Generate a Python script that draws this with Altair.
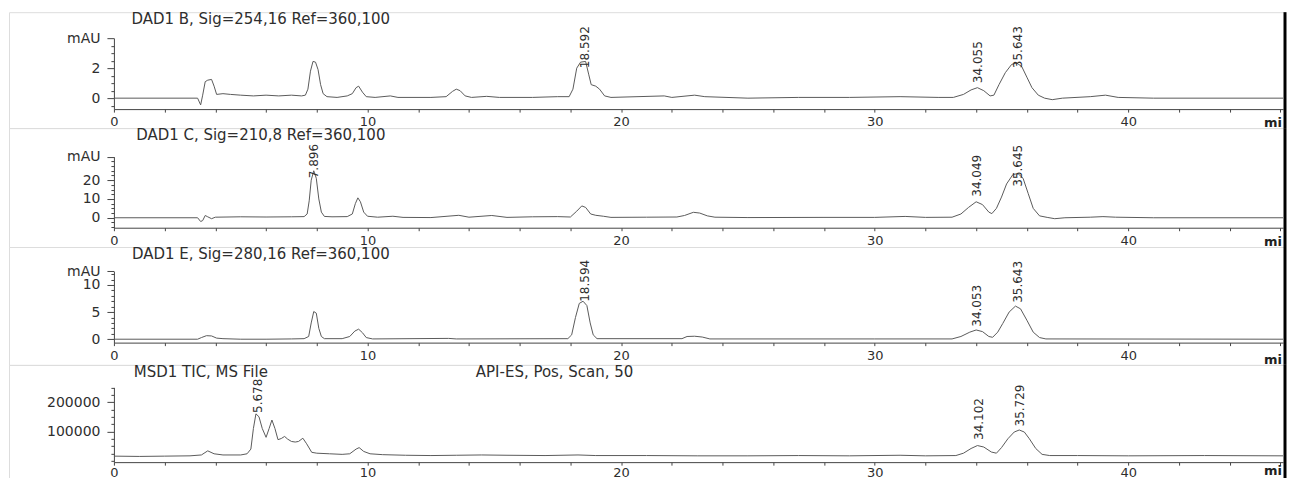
import altair as alt
import pandas as pd

# ---------------- data ----------------
# DAD1 B (mAU)
b_time = [0, 3.3, 3.42, 3.5, 3.6, 3.7, 3.85, 3.95, 4.05, 4.3, 4.6, 5.0, 5.5, 6.0, 6.5, 7.0, 7.4, 7.55,
          7.65, 7.75, 7.85, 7.95, 8.05, 8.15, 8.25, 8.4, 8.8, 9.2, 9.4, 9.55, 9.65, 9.8, 9.95, 10.3,
          10.9, 11.2, 12.5, 13.1, 13.35, 13.5, 13.65, 13.85, 14.1, 14.7, 15.2, 16.5, 17.5, 17.95,
          18.1, 18.25, 18.4, 18.6, 18.72, 18.82, 19.0, 19.15, 19.35, 19.6, 21.7, 22.0, 22.9, 23.3,
          25, 27, 29, 31, 32.5, 33.1, 33.5, 33.8, 34.05, 34.3, 34.55, 34.7, 34.9, 35.15, 35.4, 35.6,
          35.8, 36.0, 36.2, 36.45, 36.7, 37.0, 37.4, 38.5, 39.1, 39.6, 41, 46.1]
b_mau = [0.0, 0.0, -0.45, 0.2, 1.1, 1.2, 1.25, 0.8, 0.25, 0.3, 0.25, 0.2, 0.15, 0.2, 0.15, 0.2, 0.15, 0.2,
         0.6, 1.8, 2.45, 2.4, 1.9, 0.9, 0.3, 0.1, 0.05, 0.15, 0.3, 0.7, 0.8, 0.4, 0.1, 0.05,
         0.15, 0.05, 0.05, 0.1, 0.45, 0.6, 0.5, 0.15, 0.05, 0.12, 0.05, 0.05, 0.1, 0.1,
         0.6, 2.0, 2.4, 2.45, 1.6, 0.9, 0.8, 0.6, 0.15, 0.05, 0.15, 0.05, 0.2, 0.1,
         0.0, 0.05, 0.05, 0.1, 0.05, 0.05, 0.25, 0.55, 0.7, 0.5, 0.15, 0.2, 0.9, 1.7, 2.25, 2.35,
         2.1, 1.4, 0.7, 0.2, 0.0, -0.1, 0.0, 0.1, 0.2, 0.05, 0.0, 0.0]

# DAD1 C (mAU)
c_time = [0, 3.3, 3.42, 3.5, 3.6, 3.7, 3.85, 4.0, 5, 6, 7, 7.5, 7.62, 7.7, 7.78, 7.88, 7.98, 8.08, 8.18,
          8.3, 8.6, 9.2, 9.4, 9.52, 9.62, 9.72, 9.85, 10.0, 10.4, 11.0, 11.4, 12.5, 13.6, 14.0, 14.9,
          15.5, 16.5, 17.5, 18.0, 18.25, 18.45, 18.6, 18.8, 19.0, 19.3, 19.6, 21, 22.2, 22.5, 22.85,
          23.1, 23.4, 23.7, 25, 28, 30, 31.2, 32, 33.05, 33.4, 33.7, 34.0, 34.25, 34.5, 34.62, 34.8,
          35.0, 35.2, 35.45, 35.65, 35.85, 36.05, 36.25, 36.5, 36.8, 37.1, 37.5, 38.5, 39, 39.5, 41, 46.1]
c_mau = [0, 0, -2.0, -1.5, 1.2, 0.5, -0.5, 0.3, 0.5, 0.4, 0.5, 0.6, 2, 9, 20, 25, 21, 10, 3,
         0.7, 0.5, 0.6, 2, 7.5, 10.6, 8.5, 3, 0.8, 0.3, 0.8, 0.2, 0.1, 1.3, 0.3, 1.2,
         0.2, 0.5, 0.6, 0.4, 3.5, 6.3, 5.5, 2, 1.3, 0.8, 0.2, 0.3, 0.4, 1.2, 2.9,
         2.5, 1.0, 0.3, 0.1, 0.2, 0.2, 0.7, 0.2, 0.3, 2.0, 5.5, 8.5, 7, 3, 2.2, 5,
         11, 18, 23, 23.5, 21, 13, 5, 1, 0.2, -0.5, 0, 0.3, 0.6, 0.3, 0, 0]

# DAD1 E (mAU)
e_time = [0, 3.3, 3.45, 3.65, 3.85, 4.05, 4.3, 5, 6, 7, 7.5, 7.68, 7.78, 7.88, 7.98, 8.08, 8.18, 8.3,
          9.0, 9.3, 9.5, 9.65, 9.8, 9.95, 10.2, 13.2, 13.5, 17.9, 18.05, 18.2, 18.35, 18.5, 18.65,
          18.78, 18.9, 19.05, 22.4, 22.6, 22.9, 23.2, 23.5, 30, 33.05, 33.4, 33.75, 34.0, 34.25, 34.5,
          34.65, 34.85, 35.05, 35.3, 35.55, 35.75, 36.0, 36.25, 36.5, 36.75, 46.1]
e_mau = [0, 0, 0.3, 0.65, 0.6, 0.2, 0.1, 0, 0, 0.05, 0.1, 0.5, 3, 5.1, 4.8, 2, 0.5, 0.1,
         0.1, 0.5, 1.5, 1.85, 1.2, 0.3, 0.05, 0.15, 0.05, 0.1, 0.8, 4, 6.6, 7.0, 6.2,
         3, 0.8, 0.1, 0.1, 0.5, 0.55, 0.4, 0.05, 0.05, 0.05, 0.5, 1.3, 1.7, 1.4, 0.5,
         0.35, 1.3, 2.9, 5.0, 6.1, 5.6, 3.5, 1.3, 0.3, 0.05, 0.0]

# MSD1 TIC (counts)
tic_time = [0, 1, 2, 3, 3.45, 3.7, 3.95, 4.3, 5.0, 5.25, 5.4, 5.5, 5.6, 5.72, 5.85, 6.0, 6.12, 6.23,
            6.35, 6.47, 6.6, 6.73, 6.85, 7.0, 7.15, 7.28, 7.45, 7.6, 7.8, 8.0, 8.5, 9.0, 9.3, 9.55,
            9.67, 9.85, 10.1, 10.6, 11.5, 12.5, 13.5, 14.5, 15.5, 17, 18.3, 19, 21, 23, 25, 27, 29,
            31, 32, 33.2, 33.5, 33.8, 34.05, 34.3, 34.6, 34.8, 35.0, 35.25, 35.5, 35.7, 35.9, 36.1,
            36.35, 36.6, 36.9, 38, 40, 43, 46.1]
tic_counts = [16000, 15000, 16000, 17000, 20000, 34000, 24000, 20000, 20000, 24000, 40000, 110000,
              160000, 150000, 110000, 80000, 110000, 139000, 110000, 72000, 76000, 83000, 74000,
              66000, 64000, 66000, 77000, 58000, 29000, 26000, 24000, 22000, 24000, 40000, 45000,
              32000, 24000, 21000, 19000, 18000, 19000, 20000, 19000, 18000, 20000, 18000, 18000,
              17000, 17000, 18000, 17000, 19000, 17000, 18000, 26000, 42000, 52000, 47000, 30000,
              26000, 45000, 75000, 98000, 105000, 98000, 75000, 42000, 22000, 18000, 18000, 17000,
              18000, 17000]

# peak annotations: retention time, printed label, signal level at the label foot
b_peak_time = [18.592, 34.055, 35.643]
b_peak_text = ["18.592", "34.055", "35.643"]
b_peak_level = [2.0, 1.0, 2.0]
c_peak_time = [7.896, 34.049, 35.645]
c_peak_text = ["7.896", "34.049", "35.645"]
c_peak_level = [21.0, 11.2, 16.5]
e_peak_time = [18.594, 34.053, 35.643]
e_peak_text = ["18.594", "34.053", "35.643"]
e_peak_level = [6.9, 2.3, 6.7]
tic_peak_time = [5.678, 34.102, 35.729]
tic_peak_text = ["5.678", "34.102", "35.729"]
tic_peak_level = [163000, 71000, 117000]

titles_b = ["DAD1 B, Sig=254,16 Ref=360,100"]
titles_c = ["DAD1 C, Sig=210,8 Ref=360,100"]
titles_e = ["DAD1 E, Sig=280,16 Ref=360,100"]
titles_tic = ["MSD1 TIC, MS File", "API-ES, Pos, Scan, 50"]
unit_text = "mi"

x_ticks = list(range(0, 47, 2))

b_yticks = [-0.5, 0, 0.5, 1, 1.5, 2, 2.5, 3, 3.5, 4]
b_ylabels = {0: "0", 2: "2", 4: "mAU"}
c_yticks = [-5, -2.5, 0, 2.5, 5, 7.5, 10, 12.5, 15, 17.5, 20, 22.5, 25, 27.5, 30, 32.5]
c_ylabels = {0: "0", 10: "10", 20: "20", 32.5: "mAU"}
e_yticks = [0, 1, 2, 3, 4, 5, 6, 7, 8, 9, 10, 11, 12, 12.5]
e_ylabels = {0: "0", 5: "5", 10: "10", 12.5: "mAU"}
tic_yticks = [0, 25000, 50000, 75000, 100000, 125000, 150000, 175000, 200000, 225000, 250000]
tic_ylabels = {100000: "100000", 200000: "200000"}

# ---------------- layout / style ----------------
W = 1277
X_RANGE = [105, 1275]
X_DOMAIN = [0, 46.1]
FONT = "DejaVu Sans"
INK = "#2e2e2e"
LINE = "#5a5a5a"


def label_expr(mapping):
    expr = "''"
    for val, txt in reversed(list(mapping.items())):
        expr = f"datum.value === {val} ? '{txt}' : ({expr})"
    return expr


def panel(times, values, pk_t, pk_txt, pk_lvl, titles, title_x, h, y_domain, y_range,
          y_ticks, y_labels, x_pad, unit_y):
    df = pd.DataFrame({"t": times, "v": values})
    pk = pd.DataFrame({"t": pk_t, "v": pk_lvl, "txt": pk_txt})
    xs = alt.Scale(domain=X_DOMAIN, range=X_RANGE, nice=False, zero=False)
    ys = alt.Scale(domain=y_domain, range=y_range, nice=False, zero=False)
    major = [k for k in y_labels.keys()]
    major_test = "indexof([" + ",".join(str(m) for m in major) + "], datum.value) >= 0"

    x_axis = alt.Axis(values=x_ticks, labelExpr="datum.value % 10 === 0 ? datum.label : ''",
                      orient="bottom", offset=y_range[0] - h, tickSize=3, labelPadding=x_pad,
                      grid=False, title=None, labelFlush=False, labelOverlap=False,
                      domainColor="#444444", tickColor="#444444", labelFont=FONT,
                      labelFontSize=13, labelColor=INK, labelAngle=0)
    y_axis = alt.Axis(values=y_ticks, labelExpr=label_expr(y_labels), orient="left",
                      offset=-X_RANGE[0],
                      tickSize={"condition": {"test": major_test, "value": 7}, "value": 3},
                      labelPadding=7, grid=False, title=None, labelOverlap=False,
                      domainColor="#444444", tickColor="#444444", labelFont=FONT,
                      labelFontSize=14, labelColor=INK)

    line = alt.Chart(df).mark_line(color=LINE, strokeWidth=1).encode(
        x=alt.X("t:Q", scale=xs, axis=x_axis),
        y=alt.Y("v:Q", scale=ys, axis=y_axis),
    )
    peaks = alt.Chart(pk).mark_text(angle=270, align="left", baseline="middle", font=FONT,
                                    fontSize=12, color=INK).encode(
        x=alt.X("t:Q", scale=xs, axis=x_axis),
        y=alt.Y("v:Q", scale=ys, axis=y_axis),
        text="txt:N",
    )
    layers = [line, peaks]
    for txt, tx in zip(titles, title_x):
        layers.append(
            alt.Chart(pd.DataFrame({"txt": [txt]})).mark_text(
                align="center", baseline="top", font=FONT, fontSize=15, color=INK
            ).encode(x=alt.value(tx), y=alt.value(0), text="txt:N")
        )
    layers.append(
        alt.Chart(pd.DataFrame({"txt": [unit_text]})).mark_text(
            align="right", baseline="alphabetic", font=FONT, fontSize=13, fontWeight="bold",
            color="#222222"
        ).encode(x=alt.value(W - 3), y=alt.value(unit_y), text="txt:N")
    )
    layers.append(
        alt.Chart(pd.DataFrame({"a": [0]})).mark_rule(color="black", strokeWidth=3).encode(
            x=alt.value(W), y=alt.value(0), y2=alt.value(h)
        )
    )
    return alt.layer(*layers).properties(width=W, height=h)


p1 = panel(b_time, b_mau, b_peak_time, b_peak_text, b_peak_level, titles_b, [252], 116,
           [-0.73, 4.0], [97, 26], b_yticks, b_ylabels, 3, 115)
p2 = panel(c_time, c_mau, c_peak_time, c_peak_text, c_peak_level, titles_c, [252], 119,
           [-5.3, 32.5], [99.7, 28.6], c_yticks, c_ylabels, 3.3, 118)
p3 = panel(e_time, e_mau, e_peak_time, e_peak_text, e_peak_level, titles_e, [252], 118,
           [-0.63, 12.5], [95.7, 24.4], e_yticks, e_ylabels, 4.3, 117)
p4 = panel(tic_time, tic_counts, tic_peak_time, tic_peak_text, tic_peak_level, titles_tic,
           [192, 546], 116, [-4400, 250000], [97.3, 22.5], tic_yticks, tic_ylabels, 1.2, 110)

chart = alt.vconcat(p1, p2, p3, p4, spacing=0, bounds="flush").properties(
    padding={"left": 0, "top": 2, "right": 0, "bottom": 0}
).configure_view(stroke="#9a9a9a", strokeWidth=1).configure(background="white")

chart.save("out.html", embed_options={"renderer": "svg", "actions": False})
